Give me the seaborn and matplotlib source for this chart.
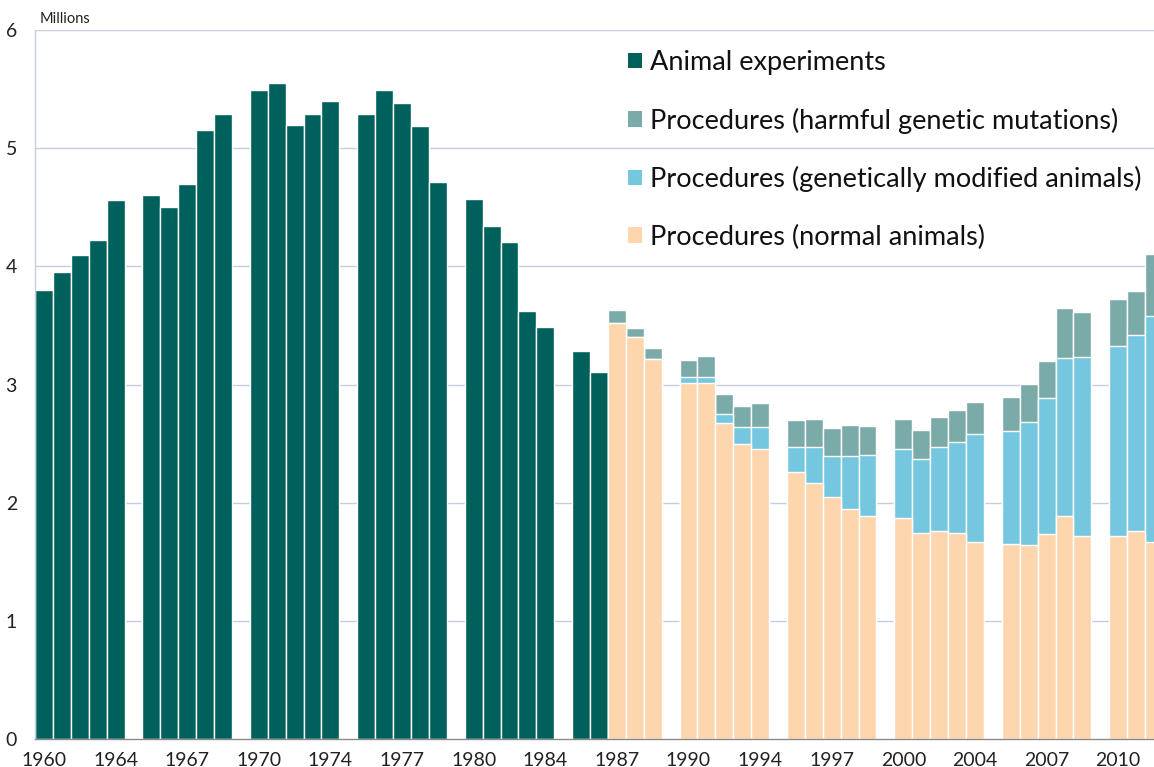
import matplotlib
matplotlib.use("Agg")
import matplotlib.pyplot as plt
from matplotlib.patches import Patch
import seaborn as sns
import pandas as pd
import numpy as np

# ---------------- data ----------------
exp_years = list(range(1960, 1987))
animal_experiments = [3.80, 3.95, 4.10, 4.22, 4.56,
                      4.60, 4.50, 4.70, 5.15, 5.29,
                      5.49, 5.55, 5.20, 5.29, 5.40,
                      5.29, 5.49, 5.38, 5.19, 4.71,
                      4.57, 4.34, 4.21, 3.62, 3.49,
                      3.28, 3.11]

proc_years = list(range(1987, 2013))
proc_normal = [3.52, 3.40, 3.215, 3.015, 3.015, 2.67, 2.50, 2.454, 2.262, 2.17,
               2.05, 1.95, 1.89, 1.873, 1.74, 1.757, 1.746, 1.667, 1.647, 1.642,
               1.732, 1.89, 1.718, 1.718, 1.763, 1.67]
proc_gm = [0.0, 0.0, 0.0, 0.05, 0.05, 0.08, 0.14, 0.19, 0.21, 0.30,
           0.345, 0.445, 0.51, 0.58, 0.63, 0.71, 0.765, 0.917, 0.957, 1.041,
           1.151, 1.337, 1.517, 1.605, 1.653, 1.912]
proc_harmful = [0.11, 0.075, 0.095, 0.14, 0.175, 0.17, 0.18, 0.20, 0.23, 0.24,
                0.24, 0.26, 0.25, 0.256, 0.243, 0.259, 0.273, 0.265, 0.286, 0.324,
                0.313, 0.423, 0.381, 0.397, 0.373, 0.522]

tick_years = [1960, 1964, 1967, 1970, 1974, 1977, 1980, 1984, 1987, 1990,
              1994, 1997, 2000, 2004, 2007, 2010]

series_labels = ["Animal experiments",
                 "Procedures (harmful genetic mutations)",
                 "Procedures (genetically modified animals)",
                 "Procedures (normal animals)"]
colors = ["#00605b", "#7aaba9", "#74c7de", "#fdd6ae"]


def slot(year):
    # one empty slot after every five years
    d = year - 1960
    return d + d // 5


# ---------------- frames ----------------
df_exp = pd.DataFrame({"pos": [slot(y) for y in exp_years], "value": animal_experiments})
normal = np.array(proc_normal)
gm_top = normal + np.array(proc_gm)
total = gm_top + np.array(proc_harmful)
df_proc = pd.DataFrame({"pos": [slot(y) for y in proc_years],
                        "normal": normal, "gm_top": gm_top, "total": total})

# ---------------- plot ----------------
sns.set_style("white")
plt.rcParams["font.family"] = ["Lato", "DejaVu Sans"]

fig = plt.figure(figsize=(11.54, 7.67), dpi=100)
ax = fig.add_axes([35 / 1154, 1 - 739 / 767, 1 - 35 / 1154, (739 - 30) / 767])

grid_c = "#c3cfe0"
for yv in [1, 2, 3, 4, 5, 6]:
    ax.axhline(yv, color=grid_c, lw=1.0, zorder=0)

kw = dict(native_scale=True, width=1.0, edgecolor="white", linewidth=1.0,
          saturation=1, errorbar=None, ax=ax)
sns.barplot(data=df_exp, x="pos", y="value", color=colors[0], **kw)
sns.barplot(data=df_proc, x="pos", y="total", color=colors[1], **kw)
sns.barplot(data=df_proc, x="pos", y="gm_top", color=colors[2], **kw)
sns.barplot(data=df_proc, x="pos", y="normal", color=colors[3], **kw)

ax.set_xlim(-0.5, 62.0)
ax.set_ylim(0, 6)
ax.set_xlabel("")
ax.set_ylabel("")
ax.set_xticks([slot(y) for y in tick_years])
ax.set_xticklabels([str(y) for y in tick_years], fontsize=14, color="#222222")
ax.set_yticks([0, 1, 2, 3, 4, 5, 6])
ax.set_yticklabels(["0", "1", "2", "3", "4", "5", "6"], fontsize=14, color="#222222")
ax.tick_params(axis="x", length=0, pad=9)
ax.tick_params(axis="y", length=0, pad=13)

for s in ["top", "right"]:
    ax.spines[s].set_visible(False)
ax.spines["left"].set_color(grid_c)
ax.spines["left"].set_linewidth(1.0)
ax.spines["bottom"].set_color("#8a8a8a")
ax.spines["bottom"].set_linewidth(1.0)
ax.spines["bottom"].set_zorder(5)

fig.text(40 / 1154, 1 - 19 / 767, "Millions", fontsize=10.5, color="#222222",
         va="center", ha="left")

handles = [Patch(facecolor=c, edgecolor="none") for c in colors]
leg = ax.legend(handles, series_labels, loc="upper left",
                bbox_to_anchor=(628 / 1154, 1 - 50 / 767), bbox_transform=fig.transFigure,
                frameon=False, fontsize=19.5, labelspacing=1.2, handlelength=0.5,
                handleheight=0.5, handletextpad=0.3, borderaxespad=0, borderpad=0)
for t in leg.get_texts():
    t.set_color("#111111")

fig.savefig("out.png", dpi=100)
